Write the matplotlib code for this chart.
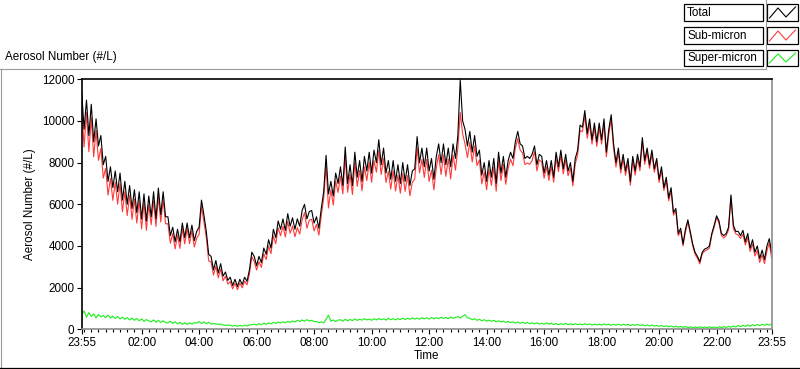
import numpy as np
import matplotlib
matplotlib.use("Agg")
import matplotlib.pyplot as plt
from matplotlib.patches import Rectangle
from matplotlib.lines import Line2D

plt.rcParams['font.family'] = ['Liberation Sans', 'DejaVu Sans']

# ---------------- data (5-minute samples from 23:55 to 23:55) ----------------
step_minutes = 5
total = [
    11400, 9600, 11000, 9300, 10800, 9000, 10100, 8800, 9300, 7900, 8300, 7100,
    7800, 6800, 7600, 6600, 7500, 6200, 7100, 6000, 6900, 5800, 6700, 5600,
    6600, 5300, 6500, 5200, 6400, 5400, 6600, 5300, 6780, 5500, 6600, 5400,
    5400, 4500, 4900, 4200, 4800, 4200, 5100, 4400, 5100, 4400, 5000, 4250,
    4700, 4900, 6200, 5500, 4700, 3600, 3500, 2850, 3300, 2700, 3150, 2550,
    2750, 2350, 2500, 2100, 2400, 2050, 2400, 2150, 2500, 2300, 2850, 3700,
    3500, 3050, 3500, 3200, 3900, 3600, 4300, 3900, 4800, 4400, 5200, 4800,
    5300, 4750, 5550, 4950, 5350, 4800, 5300, 4950, 5700, 6000, 5300, 5650,
    5700, 5100, 5400, 4850, 5800, 6600, 8350, 6500, 7100, 6400, 7500, 7000,
    7800, 6900, 8750, 7000, 7900, 6900, 8500, 7300, 8100, 7100, 8300, 7600,
    8500, 7500, 8600, 8000, 9100, 7900, 8700, 7500, 8100, 7200, 8100, 7100,
    7900, 7000, 8000, 7100, 7900, 6900, 7600, 7700, 9250, 8000, 8700, 7800,
    8700, 7600, 8200, 7200, 8300, 8900, 8000, 8900, 7900, 8700, 7800, 8900,
    8200, 9300, 11970, 10000, 9600, 8800, 9500, 8500, 9300, 8300, 8600, 7400,
    8000, 7100, 8100, 7300, 8200, 7000, 8500, 7500, 8300, 7300, 8100, 8500,
    8200, 9000, 9500, 8900, 8800, 8200, 8300, 8200, 8400, 8800, 7900, 8400,
    8300, 7500, 8100, 7400, 8100, 7300, 8500, 7800, 8600, 7700, 8400, 7600,
    8000, 7100, 8200, 8600, 9800, 9700, 10500, 9400, 10100, 9100, 9900, 9000,
    9900, 9100, 10100, 8500, 9600, 10300, 8900, 8000, 8700, 7700, 8400, 7600,
    8200, 7100, 8300, 7600, 8400, 7800, 9200, 8100, 8700, 7900, 8600, 7700,
    8200, 7200, 7800, 6800, 7300, 6300, 6800, 5600, 5800, 4600, 4850, 4100,
    4800, 5250, 4700, 4100, 3700, 3500, 3250, 3700, 3850, 3900, 4000, 4600,
    5000, 5450, 5200, 4600, 4500, 4600, 4900, 6450, 5000, 4700, 4700, 4500,
    4750, 4200, 4600, 3900, 4300, 3700, 4000, 3400, 3800, 3350, 4000, 4350, 3650,
]
sub_micron = [
    10700, 8750, 10400, 8520, 10150, 8280, 9540, 8110, 8680, 7260, 7720, 6440,
    7240, 6190, 7060, 6010, 6980, 5640, 6600, 5460, 6430, 5280, 6250, 5100,
    6170, 4820, 6100, 4750, 5980, 5020, 6170, 4940, 6370, 5150, 6210, 5060,
    5070, 4130, 4600, 3860, 4520, 3880, 4840, 4100, 4850, 4110, 4730, 3950,
    4380, 4550, 5900, 5160, 4410, 3280, 3230, 2600, 3020, 2470, 2890, 2330,
    2550, 2170, 2290, 1940, 2210, 1900, 2220, 1990, 2310, 2130, 2650, 3480,
    3260, 2840, 3240, 2970, 3620, 3350, 4000, 3630, 4480, 4110, 4860, 4490,
    4950, 4430, 5180, 4610, 4960, 4440, 4880, 4570, 5260, 5600, 4850, 5240,
    5280, 4720, 5040, 4520, 5450, 6280, 7870, 5820, 6700, 5960, 7120, 6570,
    7350, 6500, 8280, 6580, 7440, 6470, 8010, 6860, 7630, 6650, 7800, 7140,
    8020, 7060, 8100, 7540, 8590, 7430, 8210, 7050, 7580, 6730, 7600, 6640,
    7390, 6530, 7470, 6620, 7380, 6410, 7060, 7200, 8720, 7510, 8150, 7290,
    8160, 7100, 7640, 6690, 7750, 8380, 7430, 8370, 7340, 8180, 7220, 8360,
    7640, 8700, 10400, 9380, 8900, 8240, 8980, 8030, 8800, 7860, 8130, 6980,
    7550, 6700, 7670, 6910, 7780, 6630, 8100, 7140, 7920, 6960, 7730, 8170,
    7850, 8690, 9160, 8600, 8470, 7910, 7980, 7920, 8100, 8530, 7600, 8140,
    8020, 7250, 7800, 7140, 7820, 7060, 8230, 7570, 8340, 7460, 8130, 7370,
    7750, 6880, 7940, 8370, 9550, 9480, 10240, 9170, 9850, 8890, 9660, 8780,
    9660, 8890, 9850, 8280, 9360, 10100, 8670, 7790, 8460, 7500, 8170, 7390,
    7970, 6910, 8080, 7400, 8170, 7610, 8990, 7920, 8500, 7730, 8410, 7540,
    8020, 7050, 7630, 6660, 7140, 6170, 6650, 5480, 5660, 4490, 4720, 4000,
    4680, 5160, 4590, 4020, 3600, 3410, 3140, 3620, 3750, 3810, 3890, 4520,
    4900, 5370, 5090, 4510, 4380, 4500, 4770, 6340, 4850, 4580, 4530, 4360,
    4570, 4050, 4400, 3740, 4090, 3520, 3780, 3210, 3570, 3150, 3760, 4140, 3390,
]
super_micron = [
    700, 880, 580, 800, 620, 740, 540, 710, 600, 660, 560, 680,
    540, 630, 520, 610, 500, 580, 480, 560, 450, 540, 430, 520,
    410, 500, 380, 470, 400, 360, 450, 340, 430, 330, 410, 320,
    310, 390, 280, 360, 260, 340, 240, 320, 230, 310, 250, 320,
    300, 370, 280, 360, 270, 340, 250, 270, 260, 240, 250, 210,
    190, 200, 200, 150, 200, 140, 190, 150, 200, 160, 210, 220,
    250, 200, 270, 220, 290, 240, 310, 260, 330, 280, 350, 300,
    360, 310, 380, 330, 400, 350, 430, 370, 450, 390, 460, 400,
    430, 370, 370, 320, 360, 310, 480, 680, 390, 450, 370, 440,
    460, 390, 480, 410, 470, 420, 500, 430, 480, 440, 510, 450,
    490, 430, 510, 450, 520, 460, 500, 440, 530, 460, 510, 450,
    520, 460, 540, 470, 530, 480, 550, 490, 540, 480, 560, 500,
    550, 490, 570, 500, 560, 510, 580, 520, 570, 510, 590, 530,
    570, 610, 540, 630, 700, 550, 530, 460, 510, 430, 480, 410,
    460, 390, 440, 380, 430, 360, 410, 350, 390, 330, 380, 320,
    360, 300, 350, 290, 340, 280, 330, 270, 310, 260, 310, 250,
    290, 240, 310, 250, 290, 230, 280, 220, 270, 230, 280, 220,
    260, 210, 270, 220, 260, 210, 270, 220, 260, 200, 250, 210,
    250, 200, 260, 210, 250, 190, 240, 200, 250, 190, 240, 200,
    240, 180, 230, 190, 240, 180, 220, 170, 210, 160, 200, 150,
    190, 140, 180, 130, 170, 120, 160, 110, 150, 100, 140, 90,
    130, 80, 120, 70, 110, 80, 120, 70, 110, 80, 120, 75,
    110, 70, 120, 80, 130, 90, 140, 100, 160, 110, 180, 130,
    190, 140, 210, 150, 220, 170, 230, 180, 240, 190, 250, 200, 260,
]
x_tick_labels = ["23:55", "02:00", "04:00", "06:00", "08:00", "10:00", "12:00",
                 "14:00", "16:00", "18:00", "20:00", "22:00", "23:55"]
y_ticks = [0, 2000, 4000, 6000, 8000, 10000, 12000]
series_names = ["Total", "Sub-micron", "Super-micron"]
series_colors = ["#000000", "#ff3a3a", "#18ee18"]

# ---------------- figure ----------------
W, H = 800, 369
FS = 8.4
fig = plt.figure(figsize=(W / 100, H / 100), dpi=100)

def fx(px):
    return px / W

def fy(py):
    return 1 - py / H

ax = fig.add_axes([fx(81.7), fy(329.3), 690 / W, 250 / H])
minutes = np.arange(len(total)) * step_minutes

ax.plot(minutes, super_micron, color=series_colors[2], lw=0.8)
ax.plot(minutes, sub_micron, color=series_colors[1], lw=0.8)
ax.plot(minutes, total, color=series_colors[0], lw=0.8)

ax.set_xlim(0, 1440)
ax.set_ylim(0, 12000)

# time tick positions: minutes after 23:55
def tick_minutes(lbls):
    out = []
    for i, s in enumerate(lbls):
        h, m = map(int, s.split(":"))
        v = (h * 60 + m - (23 * 60 + 55)) % 1440
        if i == len(lbls) - 1 and v == 0:
            v = 1440
        out.append(v)
    return out

xt = tick_minutes(x_tick_labels)
ax.set_xticks(xt)
ax.set_xticklabels(x_tick_labels)
minor = [5 + 15 * k for k in range(96)] + [1440]
ax.set_xticks([m for m in minor if m not in xt], minor=True)
ax.set_yticks(y_ticks)
ax.set_yticklabels([str(v) for v in y_ticks])

ax.tick_params(axis='both', which='major', direction='out', length=3.8,
               width=0.8, colors='black', labelsize=FS, pad=1.5)
ax.tick_params(axis='x', which='minor', direction='out', length=2.0,
               width=0.8, colors='black')
ax.tick_params(axis='x', which='major', pad=2)

for side in ['left', 'top']:
    ax.spines[side].set_color('black')
    ax.spines[side].set_linewidth(1.2)
for side in ['right', 'bottom']:
    ax.spines[side].set_color('#8c8c8c')
    ax.spines[side].set_linewidth(1.2)

ax.set_ylabel("Aerosol Number (#/L)", fontsize=FS, labelpad=4)
ax.set_xlabel("Time", fontsize=FS, labelpad=0.5)

# title above the plot
fig.text(fx(5), fy(57), "Aerosol Number (#/L)", fontsize=FS, ha='left', va='center')

# outer frame
fig.add_artist(Line2D([fx(0), fx(766)], [fy(68.5), fy(68.5)], color='#9a9a9a', lw=0.8))
fig.add_artist(Line2D([fx(1), fx(1)], [fy(68.5), fy(367)], color='#9a9a9a', lw=0.8))
fig.add_artist(Line2D([fx(0), fx(799)], [fy(367.5), fy(367.5)], color='black', lw=0.9))
fig.add_artist(Line2D([fx(765.5), fx(765.5)], [fy(0), fy(68.5)], color='#9a9a9a', lw=0.8))

# legend (LabVIEW style)
rows = [(4, 21), (27, 44), (50, 66)]
for (y0, y1), name, col in zip(rows, series_names, series_colors):
    fig.add_artist(Rectangle((fx(684), fy(y1)), fx(763) - fx(684), fy(y0) - fy(y1),
                             transform=fig.transFigure, facecolor='white',
                             edgecolor='black', lw=0.9))
    fig.text(fx(687), fy((y0 + y1) / 2 + 0.5), name, fontsize=FS, ha='left', va='center')
    fig.add_artist(Rectangle((fx(767), fy(y1)), fx(798) - fx(767), fy(y0) - fy(y1),
                             transform=fig.transFigure, facecolor='white',
                             edgecolor='black', lw=0.9))
    zx = [769.5, 778, 786, 795.5]
    zy = [y1 - 3, y0 + 4, y1 - 4, y0 + 3]
    fig.add_artist(Line2D([fx(v) for v in zx], [fy(v) for v in zy], color=col, lw=0.8))

fig.savefig("out.png", dpi=100)
